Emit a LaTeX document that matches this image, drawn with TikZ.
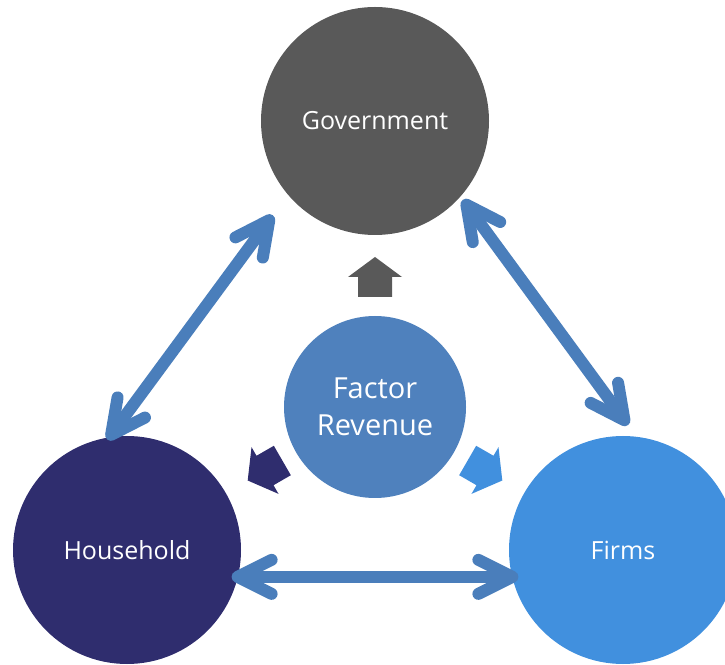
\documentclass[tikz,border=0pt]{standalone}
\usepackage{fontspec}
\setmainfont{Open Sans}
\usetikzlibrary{arrows.meta,calc}
\definecolor{govgray}{HTML}{595959}
\definecolor{hhblue}{HTML}{2F2D6E}
\definecolor{firmblue}{HTML}{4190DE}
\definecolor{facblue}{HTML}{4F81BD}
\definecolor{arrblue}{HTML}{4A7EBB}
\tikzset{
  bigcircle/.style={circle, minimum size=228pt, inner sep=0pt, text=white, font=\fontsize{25}{30}\selectfont},
  flowarrow/.style={draw=arrblue, line width=12pt,
     {Straight Barb[length=34pt,width=34pt,round]}-{Straight Barb[length=34pt,width=34pt,round]}},
  blockarrow/.pic={\fill (-17,-20) -- (17,-20) -- (17,0) -- (27,0) -- (0,20) -- (-27,0) -- (-17,0) -- cycle;}
}
\begin{document}
\begin{tikzpicture}[x=1pt,y=1pt]
\useasboundingbox (0,0) rectangle (725,664);
\clip (0,0) rectangle (725,664);
\node[bigcircle, fill=govgray] (gov) at (375,543) {Government};
\node[bigcircle, fill=hhblue] (hh) at (127,114) {Household};
\node[bigcircle, fill=firmblue] (firms) at (623,114) {Firms};
\node[circle, minimum size=182pt, inner sep=0pt, fill=facblue, text=white, align=center,
      font=\fontsize{29}{37}\selectfont] (fac) at (375,257) {Factor\\Revenue};
\coordinate (la) at ($(hh.center)+(100:112)$);
\coordinate (lb) at ($(gov.center)+(222.7:139)$);
\coordinate (ra) at ($(gov.center)+(-41.9:118)$);
\coordinate (rb) at ($(firms.center)+(87.7:125)$);
\coordinate (ba) at ($(hh.center)+(-14.4:108)$);
\coordinate (bb) at ($(firms.center)+(194.4:108)$);
\draw[flowarrow] (la) -- (lb);
\draw[flowarrow] (ra) -- (rb);
\draw[flowarrow] (ba) -- (bb);
\pic[fill=govgray] at ($(fac.center)+(90:130)$) {blockarrow};
\pic[fill=hhblue, rotate=120] at ($(fac.center)+(210:127)$) {blockarrow};
\pic[fill=firmblue, rotate=-120] at ($(fac.center)+(330:127)$) {blockarrow};
\end{tikzpicture}
\end{document}
